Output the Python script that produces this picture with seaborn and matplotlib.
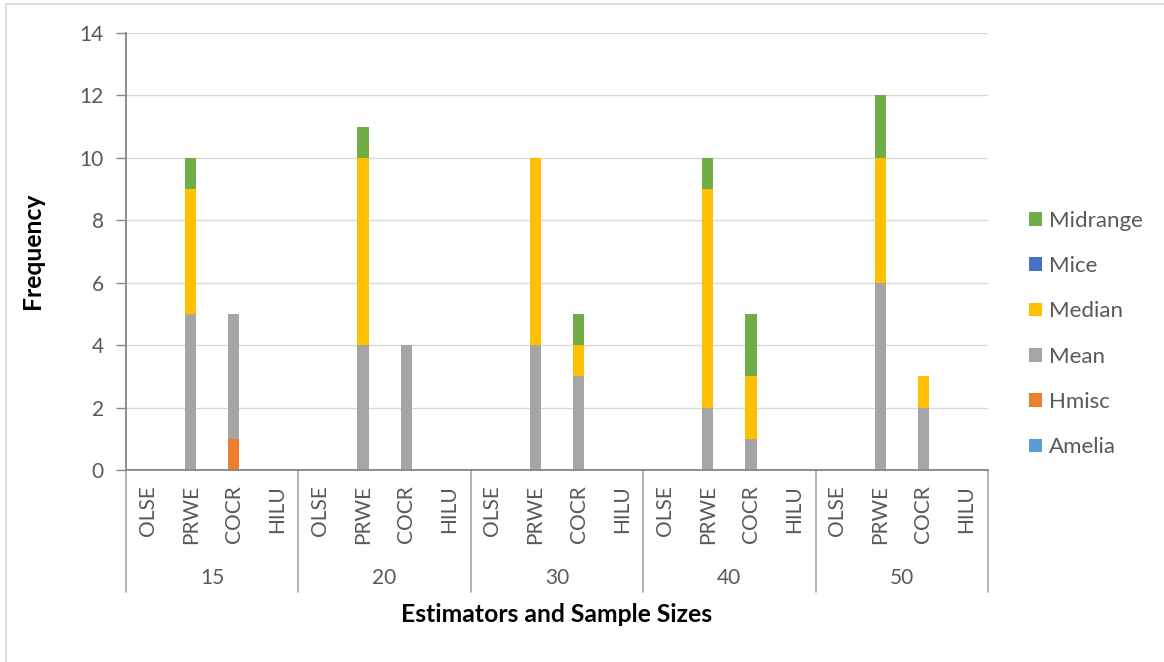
import matplotlib
matplotlib.use("Agg")
import matplotlib.pyplot as plt
from matplotlib.patches import Patch, Rectangle
from matplotlib.lines import Line2D
import seaborn as sns
import pandas as pd
import numpy as np

sns.set_theme(style="white")
plt.rcParams["font.family"] = ["Lato", "DejaVu Sans"]

# Sample sizes and estimators (category axis)
sample_sizes = ["15", "20", "30", "40", "50"]
estimators = ["OLSE", "PRWE", "COCR", "HILU"]

# Frequencies per series, one value per (sample size, estimator) pair
amelia   = [0, 0, 0, 0,  0, 0, 0, 0,  0, 0, 0, 0,  0, 0, 0, 0,  0, 0, 0, 0]
hmisc    = [0, 0, 1, 0,  0, 0, 0, 0,  0, 0, 0, 0,  0, 0, 0, 0,  0, 0, 0, 0]
mean     = [0, 5, 4, 0,  0, 4, 4, 0,  0, 4, 3, 0,  0, 2, 1, 0,  0, 6, 2, 0]
median   = [0, 4, 0, 0,  0, 6, 0, 0,  0, 6, 1, 0,  0, 7, 2, 0,  0, 4, 1, 0]
mice     = [0, 0, 0, 0,  0, 0, 0, 0,  0, 0, 0, 0,  0, 0, 0, 0,  0, 0, 0, 0]
midrange = [0, 1, 0, 0,  0, 1, 0, 0,  0, 0, 1, 0,  0, 1, 2, 0,  0, 2, 0, 0]

series_names = ["Amelia", "Hmisc", "Mean", "Median", "Mice", "Midrange"]
series_values = [amelia, hmisc, mean, median, mice, midrange]
series_colors = ["#5B9BD5", "#ED7D31", "#A5A5A5", "#FFC000", "#4472C4", "#70AD47"]

categories = [f"{s}_{e}" for s in sample_sizes for e in estimators]

# Running totals so that each layer can be drawn as a bar from zero
cum = np.cumsum(np.array(series_values, dtype=float), axis=0)
df = pd.DataFrame({"category": categories})
for name, col in zip(series_names, cum):
    df[name] = col

W, H = 1164, 662
fig = plt.figure(figsize=(W / 100, H / 100), dpi=100)
x0, x1, y0, y1 = 126, 988, 33, 470
ax = fig.add_axes([x0 / W, 1 - y1 / H, (x1 - x0) / W, (y1 - y0) / H])

# Draw the tallest running total first, then smaller ones over it
for name, color in reversed(list(zip(series_names, series_colors))):
    sns.barplot(data=df, x="category", y=name, order=categories, color=color,
                width=0.26, linewidth=0, saturation=1, ax=ax, errorbar=None)

n = len(categories)
ax.set_xlim(-0.5, n - 0.5)
ax.set_ylim(0, 14)
ax.set_yticks(range(0, 15, 2))
ax.set_yticklabels([str(v) for v in range(0, 15, 2)], fontsize=15, color="#595959")
ax.yaxis.grid(True, color="#D9D9D9", linewidth=1.0)
ax.set_axisbelow(True)
for side in ["top", "right"]:
    ax.spines[side].set_visible(False)
for side in ["left", "bottom"]:
    ax.spines[side].set_color("#868686")
    ax.spines[side].set_linewidth(1.3)
ax.tick_params(axis="y", which="both", left=True, length=7, width=1.0,
               color="#868686", pad=9)
ax.set_xticks([])
ax.set_xlabel("")
ax.set_ylabel("")

# Two-level category labels below the plot
trans = ax.get_xaxis_transform()
for i, cat in enumerate(categories):
    est = cat.split("_")[1]
    ax.text(i, -15 / (y1 - y0), est, rotation=90, ha="center", va="top",
            fontsize=15, color="#595959", transform=trans, clip_on=False)
for g, s in enumerate(sample_sizes):
    ax.text(g * 4 + 1.5, -108 / (y1 - y0), s, ha="center", va="center",
            fontsize=15, color="#595959", transform=trans, clip_on=False)
for g in range(len(sample_sizes) + 1):
    xpos = g * 4 - 0.5
    ax.add_line(Line2D([xpos, xpos], [0, -122 / (y1 - y0)], transform=trans,
                       color="#A6A6A6", linewidth=1.2, clip_on=False))

fig.text(557 / W, 1 - 615 / H, "Estimators and Sample Sizes", ha="center",
         va="center", fontsize=17.8, fontweight="bold", color="black")
fig.text(33 / W, 1 - 251 / H, "Frequency", ha="center", va="center",
         rotation=90, fontsize=17.8, fontweight="bold", color="black")

# Legend, top series first
handles = [Patch(facecolor=c, edgecolor="none", label=nm)
           for nm, c in zip(reversed(series_names), reversed(series_colors))]
leg = fig.legend(handles=handles, loc="center left",
                 bbox_to_anchor=(1029 / W, 1 - 334 / H), frameon=False,
                 fontsize=16, labelspacing=1.14, handlelength=0.58,
                 handleheight=0.58, handletextpad=0.3, borderaxespad=0,
                 borderpad=0)
for t in leg.get_texts():
    t.set_color("#595959")

# Chart area frame
fig.patches.append(Rectangle((6 / W, -0.1), 1.2, 1 - 4 / H + 0.1,
                             transform=fig.transFigure, fill=False,
                             edgecolor="#D9D9D9", linewidth=1.2))

fig.savefig("out.png", dpi=100, facecolor="white")
